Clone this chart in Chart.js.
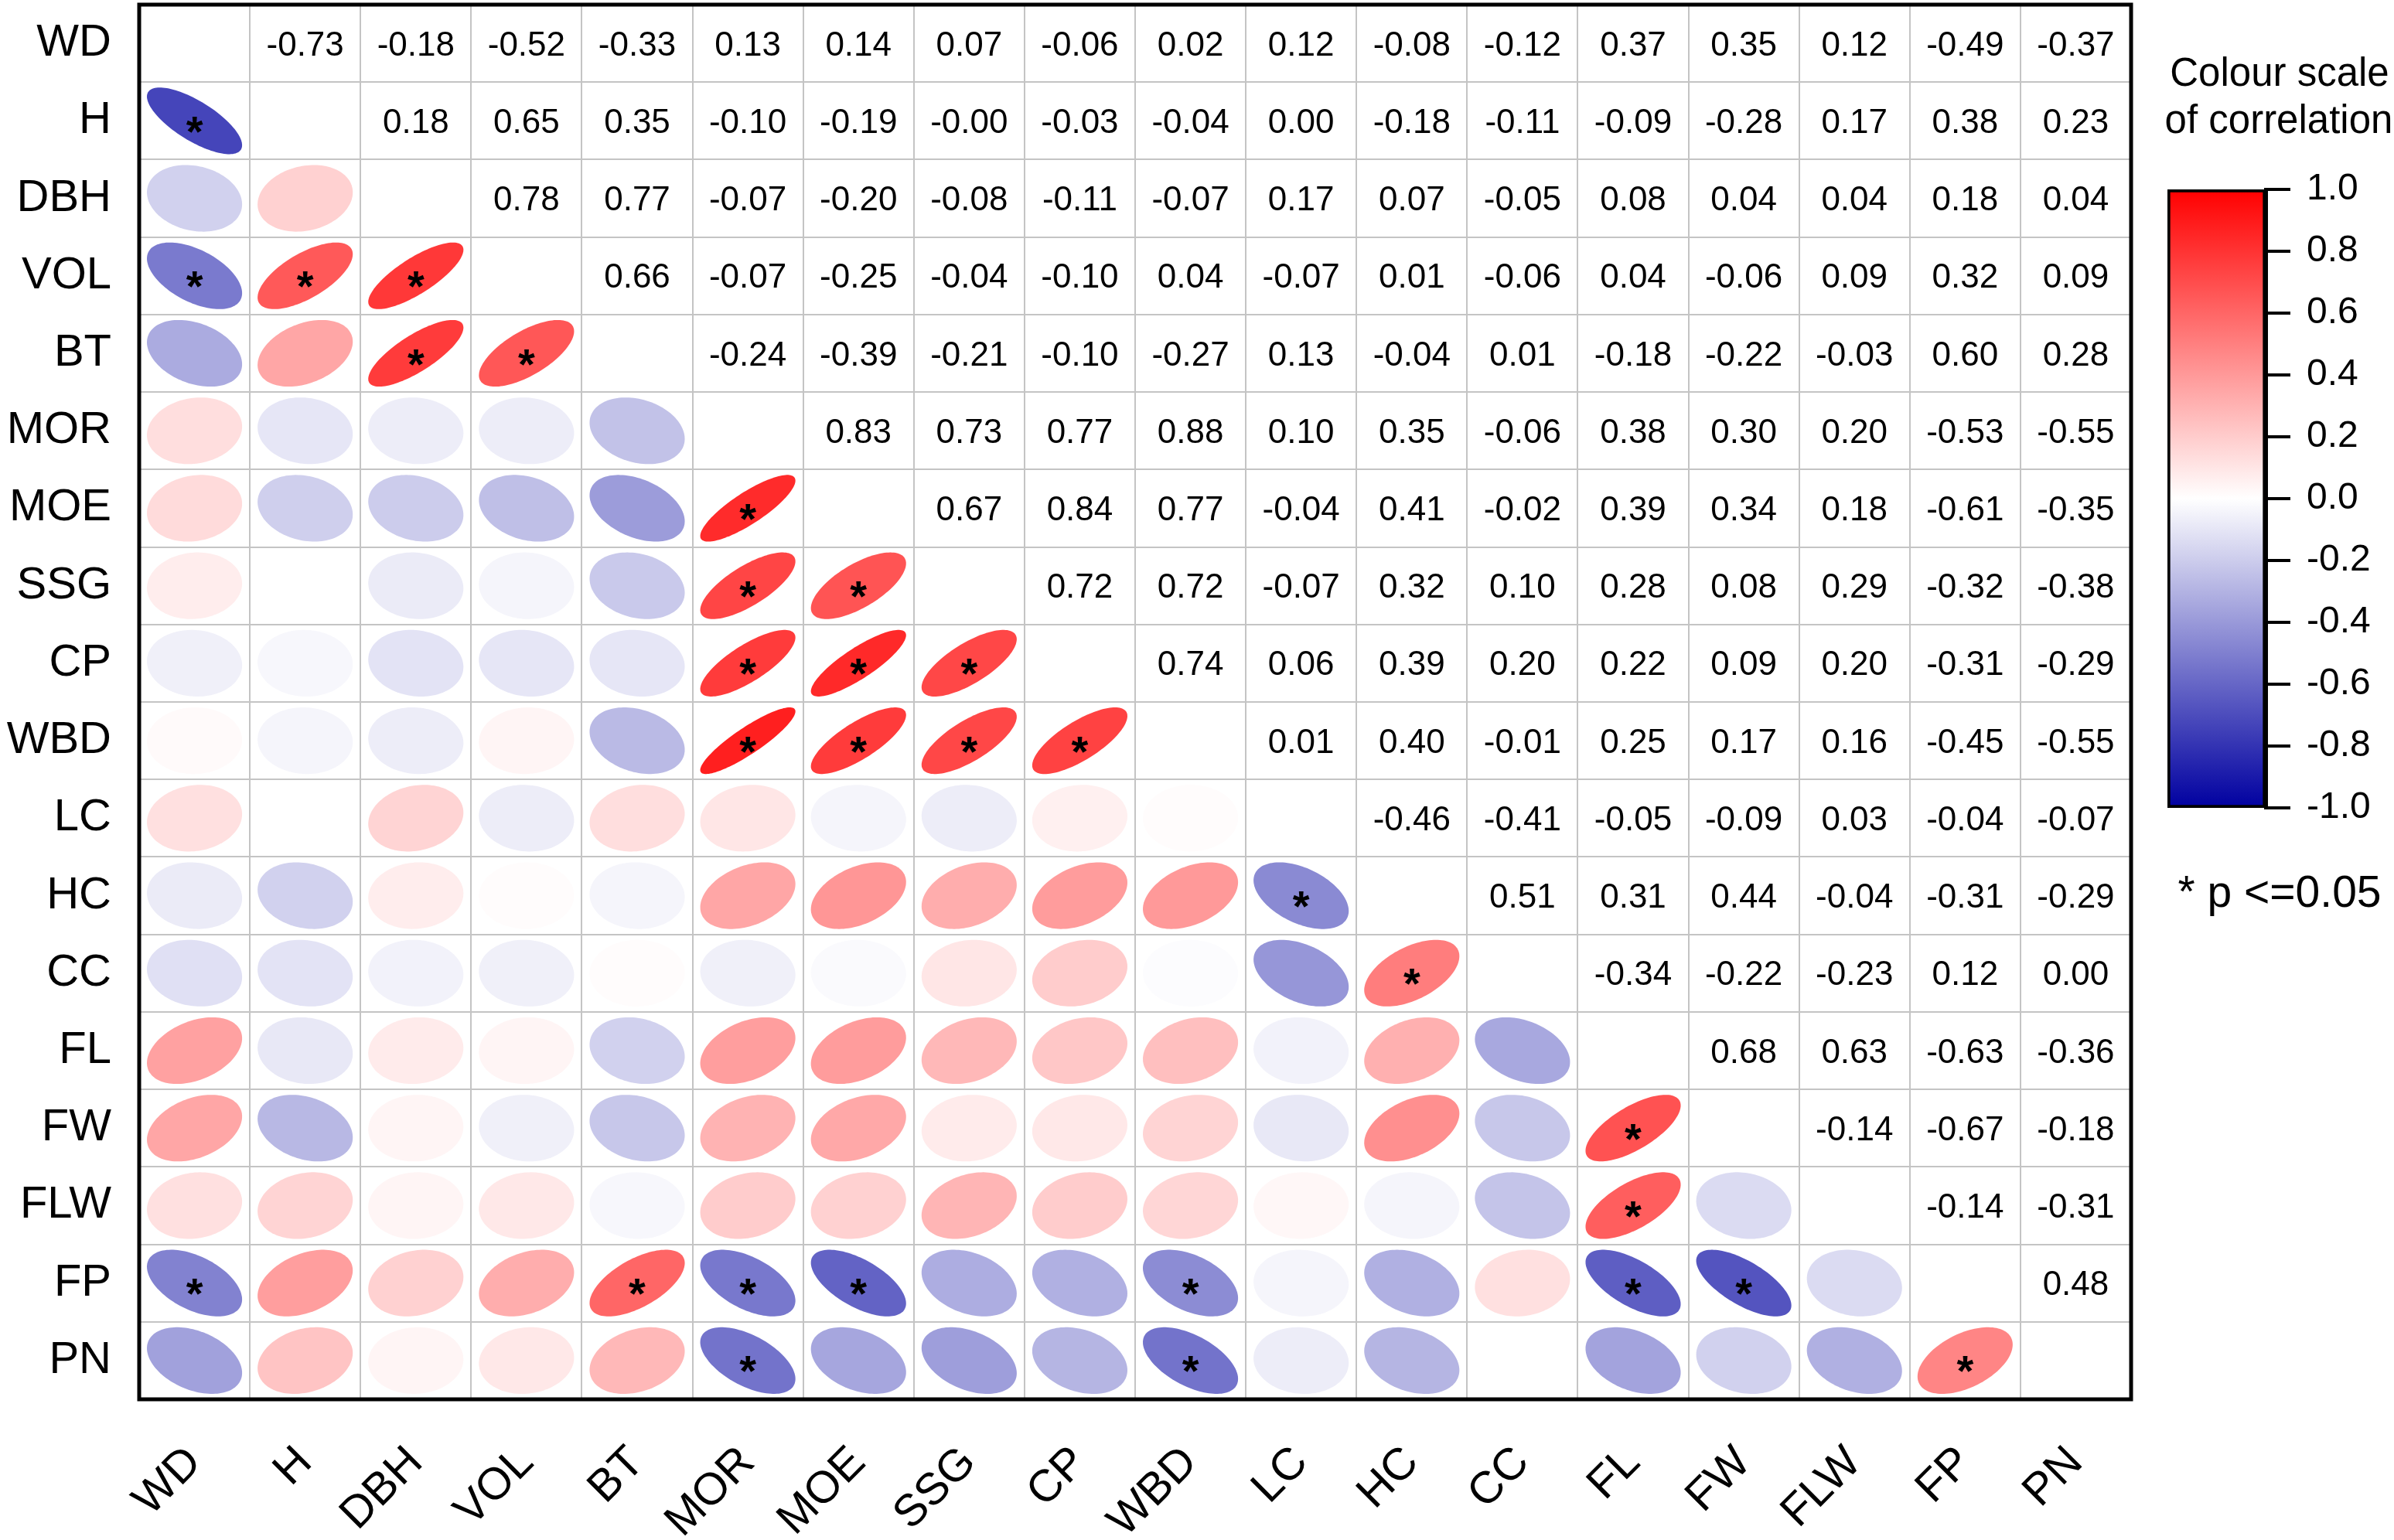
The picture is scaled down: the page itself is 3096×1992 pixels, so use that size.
<!DOCTYPE html>
<html>
<head>
<meta charset="utf-8">
<script src="https://cdn.jsdelivr.net/npm/chart.js@4.4.1/dist/chart.umd.min.js"></script>
<style>
  html, body { margin: 0; padding: 0; background: #fff; }
  #wrap { position: relative; width: 3096px; height: 1992px; overflow: hidden; }
  #matrix { position: absolute; left: 0; top: 0; }
  #scale { position: absolute; left: 2790px; top: 200px; }
  .note { position: absolute; font-family: "Liberation Sans", Arial, sans-serif; color: #000; white-space: nowrap; transform: translate(-50%, -50%); }
</style>
</head>
<body>
<div id="wrap">
  <canvas id="matrix" width="3096" height="1992"></canvas>
  <canvas id="scale" width="306" height="900"></canvas>
  <div class="note" style="left:2948px; top:93px; font-size:51px;">Colour scale</div>
  <div class="note" style="left:2947px; top:154px; font-size:51px;">of correlation</div>
  <div class="note" style="left:2948px; top:1153px; font-size:57px;">* p &lt;=0.05</div>
</div>
<script>
const vars = ['WD', 'H', 'DBH', 'VOL', 'BT', 'MOR', 'MOE', 'SSG', 'CP', 'WBD', 'LC', 'HC', 'CC', 'FL', 'FW', 'FLW', 'FP', 'PN'];

// upper triangle, row by row (values right of the diagonal)
const rWD  = [-0.73, -0.18, -0.52, -0.33, 0.13, 0.14, 0.07, -0.06, 0.02, 0.12, -0.08, -0.12, 0.37, 0.35, 0.12, -0.49, -0.37];
const rH   = [0.18, 0.65, 0.35, -0.10, -0.19, -0.00, -0.03, -0.04, 0.00, -0.18, -0.11, -0.09, -0.28, 0.17, 0.38, 0.23];
const rDBH = [0.78, 0.77, -0.07, -0.20, -0.08, -0.11, -0.07, 0.17, 0.07, -0.05, 0.08, 0.04, 0.04, 0.18, 0.04];
const rVOL = [0.66, -0.07, -0.25, -0.04, -0.10, 0.04, -0.07, 0.01, -0.06, 0.04, -0.06, 0.09, 0.32, 0.09];
const rBT  = [-0.24, -0.39, -0.21, -0.10, -0.27, 0.13, -0.04, 0.01, -0.18, -0.22, -0.03, 0.60, 0.28];
const rMOR = [0.83, 0.73, 0.77, 0.88, 0.10, 0.35, -0.06, 0.38, 0.30, 0.20, -0.53, -0.55];
const rMOE = [0.67, 0.84, 0.77, -0.04, 0.41, -0.02, 0.39, 0.34, 0.18, -0.61, -0.35];
const rSSG = [0.72, 0.72, -0.07, 0.32, 0.10, 0.28, 0.08, 0.29, -0.32, -0.38];
const rCP  = [0.74, 0.06, 0.39, 0.20, 0.22, 0.09, 0.20, -0.31, -0.29];
const rWBD = [0.01, 0.40, -0.01, 0.25, 0.17, 0.16, -0.45, -0.55];
const rLC  = [-0.46, -0.41, -0.05, -0.09, 0.03, -0.04, -0.07];
const rHC  = [0.51, 0.31, 0.44, -0.04, -0.31, -0.29];
const rCC  = [-0.34, -0.22, -0.23, 0.12, 0.00];
const rFL  = [0.68, 0.63, -0.63, -0.36];
const rFW  = [-0.14, -0.67, -0.18];
const rFLW = [-0.14, -0.31];
const rFP  = [0.48];

// pairs marked with * (p <= 0.05)
const sigPairs = [
  ['H', 'WD'], ['VOL', 'WD'], ['FP', 'WD'], ['VOL', 'H'], ['VOL', 'DBH'], ['BT', 'DBH'],
  ['BT', 'VOL'], ['FP', 'BT'], ['MOE', 'MOR'], ['SSG', 'MOR'], ['CP', 'MOR'], ['WBD', 'MOR'],
  ['FP', 'MOR'], ['PN', 'MOR'], ['SSG', 'MOE'], ['CP', 'MOE'], ['WBD', 'MOE'], ['FP', 'MOE'],
  ['CP', 'SSG'], ['WBD', 'SSG'], ['WBD', 'CP'], ['FP', 'WBD'], ['PN', 'WBD'], ['HC', 'LC'],
  ['CC', 'HC'], ['FW', 'FL'], ['FLW', 'FL'], ['FP', 'FL'], ['FP', 'FW'], ['PN', 'FP']
];

const scaleTicks = [-1, -0.8, -0.6, -0.4, -0.2, 0, 0.2, 0.4, 0.6, 0.8, 1];

const upperRows = [rWD, rH, rDBH, rVOL, rBT, rMOR, rMOE, rSSG, rCP, rWBD, rLC, rHC, rCC, rFL, rFW, rFLW, rFP];

function corr(i, j) {
  if (i > j) { const t = i; i = j; j = t; }
  return upperRows[i][j - i - 1];
}

function isSig(a, b) {
  return sigPairs.some(p => (p[0] === a && p[1] === b) || (p[0] === b && p[1] === a));
}

// dark blue -> white -> red
function colour(r) {
  let R, G, B;
  if (r >= 0) {
    R = 255; G = 255 * (1 - r); B = 255 * (1 - r);
  } else {
    const t = -r;
    R = 255 * (1 - t); G = 255 * (1 - t); B = 255 - 95 * t;
  }
  return 'rgb(' + Math.round(R) + ',' + Math.round(G) + ',' + Math.round(B) + ')';
}

function fmt(v) {
  return (Object.is(v, -0) ? '-' : '') + v.toFixed(2);
}

const points = [];
for (let i = 0; i < vars.length; i++) {
  for (let j = 0; j < vars.length; j++) {
    if (i === j) continue;
    points.push({ x: vars[j], y: vars[i], v: corr(i, j), upper: j > i, sig: isSig(vars[i], vars[j]) });
  }
}

const cellPlugin = {
  id: 'cells',
  afterDatasetsDraw(chart) {
    const ctx = chart.ctx;
    const xs = chart.scales.x, ys = chart.scales.y;
    const cw = Math.abs(xs.getPixelForValue(1) - xs.getPixelForValue(0));
    const ch = Math.abs(ys.getPixelForValue(1) - ys.getPixelForValue(0));
    const a = cw * 0.43, b = ch * 0.43;
    const meta = chart.getDatasetMeta(0);
    ctx.save();
    meta.data.forEach((el, k) => {
      const d = chart.data.datasets[0].data[k];
      const cx = el.x, cy = el.y;
      if (d.upper) {
        ctx.fillStyle = '#000';
        ctx.font = '44px "Liberation Sans", Arial, sans-serif';
        ctx.textAlign = 'center';
        ctx.textBaseline = 'alphabetic';
        const m = ctx.measureText('0');
        ctx.fillText(fmt(d.v), cx, cy + m.actualBoundingBoxAscent / 2);
      } else {
        const dd = Math.acos(d.v);
        ctx.beginPath();
        for (let s = 0; s <= 120; s++) {
          const t = s / 120 * Math.PI * 2;
          const px = cx + a * Math.cos(t + dd / 2);
          const py = cy - b * Math.cos(t - dd / 2);
          if (s === 0) ctx.moveTo(px, py); else ctx.lineTo(px, py);
        }
        ctx.closePath();
        ctx.fillStyle = colour(d.v);
        ctx.fill();
        if (d.sig) {
          ctx.fillStyle = '#000';
          ctx.font = 'bold 56px "Liberation Sans", Arial, sans-serif';
          ctx.textAlign = 'center';
          ctx.textBaseline = 'alphabetic';
          const m = ctx.measureText('*');
          const mid = (m.actualBoundingBoxAscent - m.actualBoundingBoxDescent) / 2;
          ctx.fillText('*', cx, cy + 5 + mid);
        }
      }
    });
    const area = chart.chartArea;
    ctx.strokeStyle = '#000';
    ctx.lineWidth = 5;
    ctx.strokeRect(area.left, area.top, area.right - area.left, area.bottom - area.top);
    ctx.restore();
  }
};

const labelFont = { family: '"Liberation Sans", Arial, sans-serif', size: 58 };

new Chart(document.getElementById('matrix'), {
  type: 'scatter',
  data: {
    datasets: [{ data: points, pointRadius: 0, pointHoverRadius: 0, pointHitRadius: 0 }]
  },
  options: {
    responsive: false,
    animation: false,
    events: [],
    layout: { padding: { top: 6, right: 340, left: 0, bottom: 0 } },
    plugins: { legend: { display: false }, tooltip: { enabled: false } },
    scales: {
      x: {
        type: 'category',
        labels: vars,
        offset: true,
        position: 'bottom',
        grid: { offset: true, color: '#c4c4c4', lineWidth: 2, drawTicks: false },
        border: { display: false },
        ticks: { font: labelFont, color: '#000', minRotation: 45, maxRotation: 45, padding: 48, autoSkip: false },
        afterFit(s) { s.height = 182; s.paddingLeft = 0; s.paddingRight = 0; }
      },
      y: {
        type: 'category',
        labels: vars,
        offset: true,
        grid: { offset: true, color: '#c4c4c4', lineWidth: 2, drawTicks: false },
        border: { display: false },
        ticks: { font: labelFont, color: '#000', padding: 36, autoSkip: false },
        afterFit(s) { s.width = 180; s.paddingTop = 0; s.paddingBottom = 0; }
      }
    }
  },
  plugins: [cellPlugin]
});

new Chart(document.getElementById('scale'), {
  type: 'bar',
  data: {
    labels: [''],
    datasets: [{
      data: [[scaleTicks[0], scaleTicks[scaleTicks.length - 1]]],
      backgroundColor(c) {
        const chart = c.chart;
        if (!chart.chartArea) return '#fff';
        const y = chart.scales.y;
        const g = chart.ctx.createLinearGradient(0, y.getPixelForValue(-1), 0, y.getPixelForValue(1));
        g.addColorStop(0, colour(-1));
        g.addColorStop(0.5, colour(0));
        g.addColorStop(1, colour(1));
        return g;
      },
      borderColor: '#000',
      borderWidth: 4,
      borderSkipped: false,
      barPercentage: 1,
      categoryPercentage: 1
    }]
  },
  options: {
    responsive: false,
    animation: false,
    events: [],
    layout: { padding: { left: 13, top: 45, bottom: 55, right: 0 } },
    plugins: { legend: { display: false }, tooltip: { enabled: false } },
    scales: {
      x: { display: false },
      y: {
        position: 'right',
        min: -1,
        max: 1,
        afterBuildTicks(s) { s.ticks = scaleTicks.map(v => ({ value: v })); },
        ticks: {
          font: { family: '"Liberation Sans", Arial, sans-serif', size: 48 },
          color: '#000',
          padding: 21,
          callback: v => (Math.abs(v) < 1e-9 ? 0 : v).toFixed(1)
        },
        grid: { drawOnChartArea: false, tickLength: 32, color: '#000', lineWidth: 4 },
        border: { display: true, color: '#000', width: 5 },
        afterFit(s) { s.width = 166; s.paddingTop = 0; s.paddingBottom = 0; }
      }
    }
  }
});
</script>
</body>
</html>
